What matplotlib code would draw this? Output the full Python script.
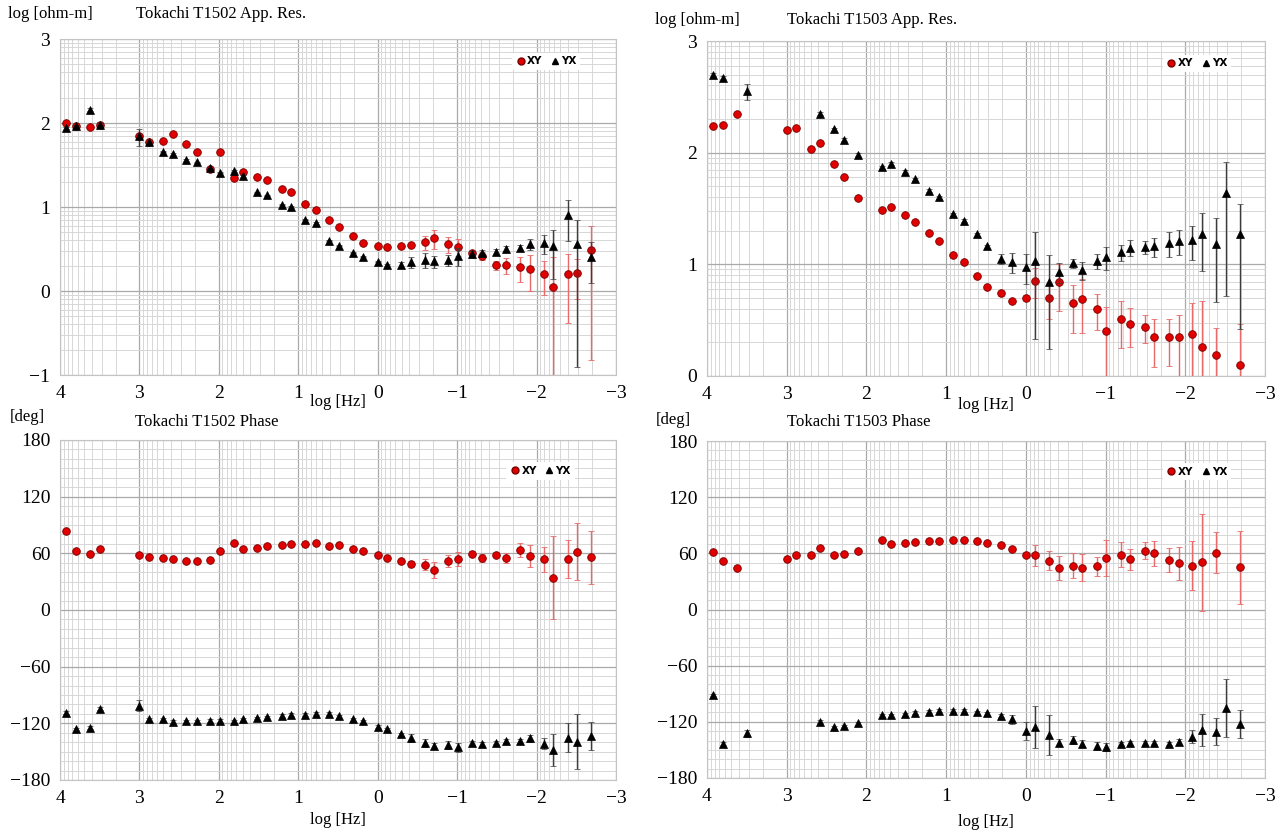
import numpy as np
import matplotlib.pyplot as plt
from matplotlib.lines import Line2D

# log10 frequency of each sounding point
freq = [3.92, 3.80, 3.62, 3.50, 3.00, 2.88, 2.70, 2.58, 2.41, 2.28, 2.11,
        1.99, 1.81, 1.69, 1.52, 1.39, 1.21, 1.09, 0.91, 0.78, 0.61, 0.49,
        0.31, 0.18, 0.00, -0.12, -0.29, -0.42, -0.59, -0.71, -0.89, -1.01,
        -1.19, -1.31, -1.49, -1.61, -1.79, -1.92, -2.09, -2.21, -2.39, -2.51, -2.69]
nan = np.nan

# T1502 apparent resistivity, log10 ohm-m, with relative (linear) errors
t1502_rho_xy = [2.00, 1.96, 1.95, 1.98, 1.84, 1.77, 1.79, 1.87, 1.75, 1.65, 1.45,
                1.65, 1.34, 1.42, 1.36, 1.32, 1.22, 1.175, 1.04, 0.96, 0.845, 0.76,
                0.65, 0.575, 0.53, 0.52, 0.535, 0.55, 0.58, 0.63, 0.556, 0.527,
                0.45, 0.42, 0.31, 0.31, 0.28, 0.265, 0.20, 0.05, 0.20, 0.21, 0.485]
t1502_rho_xy_err = [0.03, 0.03, 0.03, 0.07, 0.03, 0.02, 0.02, 0.02, 0.02, 0.02, 0.02,
                    0.02, 0.02, 0.02, 0.02, 0.02, 0.02, 0.02, 0.02, 0.02, 0.02, 0.02,
                    0.02, 0.02, 0.02, 0.02, 0.04, 0.05, 0.20, 0.25, 0.22, 0.22,
                    0.06, 0.10, 0.12, 0.22, 0.32, 0.45, 0.44, 1.29, 0.74, 0.50, 0.95]
t1502_rho_yx = [1.94, 1.96, 2.16, 1.98, 1.84, 1.77, 1.66, 1.63, 1.56, 1.53, 1.46,
                1.41, 1.43, 1.37, 1.175, 1.14, 1.027, 1.00, 0.85, 0.81, 0.60, 0.54,
                0.456, 0.41, 0.35, 0.31, 0.31, 0.345, 0.37, 0.353, 0.37, 0.417,
                0.44, 0.45, 0.47, 0.50, 0.51, 0.56, 0.57, 0.53, 0.905, 0.556, 0.40]
t1502_rho_yx_err = [0.03, 0.03, 0.03, 0.05, 0.22, 0.02, 0.02, 0.02, 0.02, 0.02, 0.02,
                    0.02, 0.02, 0.02, 0.02, 0.02, 0.02, 0.02, 0.02, 0.02, 0.02, 0.02,
                    0.02, 0.02, 0.02, 0.02, 0.08, 0.15, 0.20, 0.17, 0.15, 0.25,
                    0.10, 0.10, 0.08, 0.08, 0.08, 0.15, 0.26, 0.585, 0.51, 0.965, 0.51]

# T1503 apparent resistivity
t1503_rho_xy = [2.24, 2.25, 2.35, nan, 2.20, 2.22, 2.03, 2.09, 1.90, 1.78, 1.59,
                nan, 1.49, 1.51, 1.44, 1.38, 1.28, 1.21, 1.08, 1.02, 0.90, 0.80,
                0.74, 0.67, 0.70, 0.85, 0.70, 0.84, 0.65, 0.69, 0.60, 0.40,
                0.51, 0.47, 0.44, 0.35, 0.35, 0.35, 0.38, 0.26, 0.185, nan, 0.10]
t1503_rho_xy_err = [0.03, 0.03, 0.03, 0.0, 0.03, 0.03, 0.03, 0.03, 0.03, 0.03, 0.03,
                    0.0, 0.03, 0.03, 0.03, 0.03, 0.03, 0.03, 0.03, 0.03, 0.03, 0.03,
                    0.05, 0.03, 0.07, 0.30, 0.35, 0.45, 0.46, 0.50, 0.35, 0.65,
                    0.45, 0.38, 0.28, 0.46, 0.45, 0.58, 0.86, 1.60, 0.76, 0.0, 1.30]
t1503_rho_yx = [2.70, 2.67, nan, 2.55, nan, nan, nan, 2.35, 2.21, 2.115, 1.98,
                nan, 1.87, 1.90, 1.83, 1.76, 1.66, 1.60, 1.45, 1.39, 1.27, 1.16,
                1.05, 1.02, 0.98, 1.03, 0.84, 0.93, 1.01, 0.95, 1.03, 1.066,
                1.11, 1.15, 1.156, 1.16, 1.19, 1.21, 1.22, 1.275, 1.186, 1.64, 1.275]
t1503_rho_yx_err = [0.03, 0.03, 0.0, 0.17, 0.0, 0.0, 0.0, 0.03, 0.03, 0.03, 0.03,
                    0.0, 0.03, 0.03, 0.03, 0.03, 0.03, 0.03, 0.03, 0.03, 0.03, 0.03,
                    0.10, 0.20, 0.30, 0.80, 0.75, 0.20, 0.10, 0.18, 0.16, 0.23,
                    0.16, 0.16, 0.14, 0.19, 0.25, 0.25, 0.34, 0.535, 0.70, 0.88, 0.86]

# T1502 phase, degrees
t1502_ph_xy = [83.5, 62.5, 59.3, 65.1, 57.8, 56.0, 54.6, 53.5, 51.7, 52.1, 52.8,
               62.5, 70.9, 65.1, 65.8, 67.6, 69.0, 69.4, 70.1, 71.2, 67.6, 68.3,
               65.1, 62.2, 57.8, 55.0, 52.1, 48.5, 47.7, 41.9, 52.1, 53.9,
               59.7, 55.0, 58.6, 55.0, 63.3, 56.8, 53.5, 34.3, 54.2, 61.8, 56.0]
t1502_ph_xy_err = [1.5, 1.5, 1.5, 1.5, 1.5, 1.5, 1.5, 1.5, 1.5, 1.5, 1.5,
                   1.5, 1.5, 1.5, 1.5, 1.5, 1.5, 1.5, 1.5, 1.5, 1.5, 1.5,
                   1.5, 1.5, 1.5, 1.5, 1.5, 3.0, 5.8, 8.5, 6.3, 7.2,
                   3.0, 4.0, 3.0, 5.0, 7.6, 11.7, 13.4, 43.9, 20.0, 30.0, 28.0]
t1502_ph_yx = [-108.6, -126.0, -124.5, -104.3, -101.4, -115.9, -115.5, -118.4, -118.0, -118.0, -117.3,
               -117.3, -118.0, -115.5, -114.4, -113.3, -111.9, -110.8, -110.8, -109.7, -109.7, -112.6,
               -115.9, -118.0, -123.4, -126.0, -131.7, -135.7, -140.7, -144.0, -143.2, -145.4,
               -141.1, -141.8, -140.4, -138.9, -138.9, -136.0, -141.4, -148.3, -135.0, -139.6, -133.2]
t1502_ph_yx_err = [1.5, 1.5, 1.5, 1.5, 5.6, 1.5, 1.5, 1.5, 1.5, 1.5, 1.5,
                   1.5, 1.5, 1.5, 1.5, 1.5, 1.5, 1.5, 1.5, 1.5, 1.5, 1.5,
                   1.5, 1.5, 1.5, 1.5, 1.5, 4.0, 4.0, 3.5, 4.0, 5.0,
                   2.0, 2.0, 2.0, 2.0, 2.0, 3.5, 5.5, 17.0, 15.3, 29.0, 15.0]

# T1503 phase
t1503_ph_xy = [61.8, 51.3, 44.5, nan, 53.5, 57.8, 57.8, 65.8, 57.8, 59.3, 62.5,
               nan, 74.5, 70.1, 70.9, 71.9, 72.7, 73.4, 74.1, 74.1, 72.7, 71.2,
               69.4, 64.7, 58.6, 57.8, 52.1, 44.1, 47.0, 44.8, 46.3, 55.0,
               58.6, 53.5, 62.9, 60.0, 52.8, 49.5, 47.0, 50.3, 60.7, nan, 45.2]
t1503_ph_xy_err = [1.5, 1.5, 1.5, 0.0, 1.5, 1.5, 1.5, 1.5, 1.5, 1.5, 1.5,
                   0.0, 1.5, 1.5, 1.5, 1.5, 1.5, 1.5, 1.5, 1.5, 1.5, 1.5,
                   1.5, 1.5, 3.0, 10.8, 10.3, 13.0, 13.2, 14.0, 10.0, 19.5,
                   13.4, 10.8, 9.0, 13.0, 13.0, 17.5, 25.7, 52.0, 22.0, 0.0, 39.0]
t1503_ph_yx = [-91.4, -143.2, nan, -132.4, nan, nan, nan, -119.8, -126.0, -124.5, -121.6,
               nan, -113.0, -113.0, -111.9, -110.1, -109.0, -108.3, -107.9, -108.3, -109.7, -110.8,
               -113.3, -117.3, -129.5, -125.2, -134.2, -142.2, -139.3, -143.2, -145.8, -146.8,
               -143.2, -142.9, -142.9, -142.2, -143.2, -141.4, -135.7, -128.8, -130.6, -105.0, -122.3]
t1503_ph_yx_err = [1.5, 1.5, 0.0, 4.0, 0.0, 0.0, 0.0, 1.5, 1.5, 1.5, 1.5,
                   0.0, 1.5, 1.5, 1.5, 1.5, 1.5, 1.5, 1.5, 1.5, 1.5, 1.5,
                   1.5, 5.0, 9.5, 22.5, 21.0, 4.0, 4.0, 4.0, 4.0, 4.0,
                   2.0, 2.0, 2.0, 2.0, 2.0, 3.0, 6.5, 17.5, 14.4, 31.0, 15.0]

W, H = 1280, 833
plt.rcParams['font.family'] = ['Liberation Serif', 'DejaVu Serif']
fig = plt.figure(figsize=(W / 100, H / 100), dpi=100)

RED = '#e00000'


def rect(x0, y0, x1, y1):
    # pixel box -> figure fraction
    return [x0 / W, 1 - y1 / H, (x1 - x0) / W, (y1 - y0) / H]


def log_err(rel):
    r = np.array(rel, float)
    up = np.log10(1 + r)
    lo = -np.log10(np.clip(1 - r, 1e-3, None))
    return [lo, up]


def setup(ax, ylim, yticks, yminor):
    ax.set_xlim(4, -3)
    ax.set_ylim(*ylim)
    ax.set_xticks(range(4, -4, -1))
    ax.set_xticks([n + np.log10(k) for n in range(-3, 4) for k in range(2, 10)], minor=True)
    ax.set_yticks(yticks)
    ax.set_yticks(yminor, minor=True)
    ax.tick_params(which='minor', labelleft=False, labelbottom=False)
    ax.grid(which='major', color='#a9a9a9', lw=0.9)
    ax.grid(which='minor', color='#d7d7d7', lw=0.7)
    ax.tick_params(which='both', length=0, labelsize=14, pad=7)
    for s in ax.spines.values():
        s.set_color('#c4c4c4')
    ax.set_axisbelow(True)


def draw(ax, xy, yx, xy_err, yx_err, legend_anchor):
    ax.errorbar(freq, xy, yerr=xy_err, fmt='o', ms=5.5, mfc=RED, mec='#7a0000', mew=0.6,
                ecolor='#e86a6a', elinewidth=1.0, capsize=2, capthick=0.9, zorder=3)
    ax.errorbar(freq, yx, yerr=yx_err, fmt='^', ms=6, mfc='black', mec='black', mew=0.5,
                ecolor='#3c3c3c', elinewidth=1.0, capsize=2, capthick=0.9, zorder=4)
    handles = [Line2D([], [], marker='o', ls='', ms=5, mfc=RED, mec='#7a0000'),
               Line2D([], [], marker='^', ls='', ms=5, mfc='black', mec='black')]
    ax.legend(handles, ['XY', 'YX'], ncol=2, loc='upper right', bbox_to_anchor=legend_anchor,
              prop={'family': 'DejaVu Sans', 'weight': 'bold', 'size': 7.5},
              handletextpad=0.1, columnspacing=0.7, handlelength=1.0, borderpad=0.35,
              frameon=True, facecolor='white', edgecolor='none', framealpha=1, fancybox=False)


rho_minor_tl = [n + np.log10(k) for n in range(-1, 3) for k in range(2, 10)]
rho_minor_tr = [n + np.log10(k) for n in range(0, 3) for k in range(2, 10)]
ph_minor = list(range(-170, 180, 10))

ax1 = fig.add_axes(rect(60, 39, 616, 375))
setup(ax1, (-1, 3), [-1, 0, 1, 2, 3], rho_minor_tl)
draw(ax1, t1502_rho_xy, t1502_rho_yx, log_err(t1502_rho_xy_err), log_err(t1502_rho_yx_err),
     (0.945, 0.975))

ax2 = fig.add_axes(rect(707, 41, 1265, 376))
setup(ax2, (0, 3), [0, 1, 2, 3], rho_minor_tr)
draw(ax2, t1503_rho_xy, t1503_rho_yx, log_err(t1503_rho_xy_err), log_err(t1503_rho_yx_err),
     (0.948, 0.975))

ax3 = fig.add_axes(rect(60, 440, 616, 780))
setup(ax3, (-180, 180), range(-180, 181, 60), ph_minor)
draw(ax3, t1502_ph_xy, t1502_ph_yx, t1502_ph_xy_err, t1502_ph_yx_err, (0.935, 0.95))

ax4 = fig.add_axes(rect(707, 441, 1265, 778))
setup(ax4, (-180, 180), range(-180, 181, 60), ph_minor)
draw(ax4, t1503_ph_xy, t1503_ph_yx, t1503_ph_xy_err, t1503_ph_yx_err, (0.948, 0.95))

# axis captions and titles
fs = 12
fig.text(8 / W, 1 - 14 / H, 'log [ohm-m]', fontsize=fs, va='center')
fig.text(136 / W, 1 - 14 / H, 'Tokachi T1502 App. Res.', fontsize=fs, va='center')
fig.text(655 / W, 1 - 20 / H, 'log [ohm-m]', fontsize=fs, va='center')
fig.text(787 / W, 1 - 20 / H, 'Tokachi T1503 App. Res.', fontsize=fs, va='center')
fig.text(338 / W, 1 - 402 / H, 'log [Hz]', fontsize=fs, ha='center', va='center')
fig.text(986 / W, 1 - 405 / H, 'log [Hz]', fontsize=fs, ha='center', va='center')
fig.text(10 / W, 1 - 417 / H, '[deg]', fontsize=fs, va='center')
fig.text(135 / W, 1 - 422 / H, 'Tokachi T1502 Phase', fontsize=fs, va='center')
fig.text(656 / W, 1 - 420 / H, '[deg]', fontsize=fs, va='center')
fig.text(787 / W, 1 - 422 / H, 'Tokachi T1503 Phase', fontsize=fs, va='center')
fig.text(338 / W, 1 - 820 / H, 'log [Hz]', fontsize=fs, ha='center', va='center')
fig.text(986 / W, 1 - 822 / H, 'log [Hz]', fontsize=fs, ha='center', va='center')

fig.savefig('out.png', dpi=100, facecolor='white')
